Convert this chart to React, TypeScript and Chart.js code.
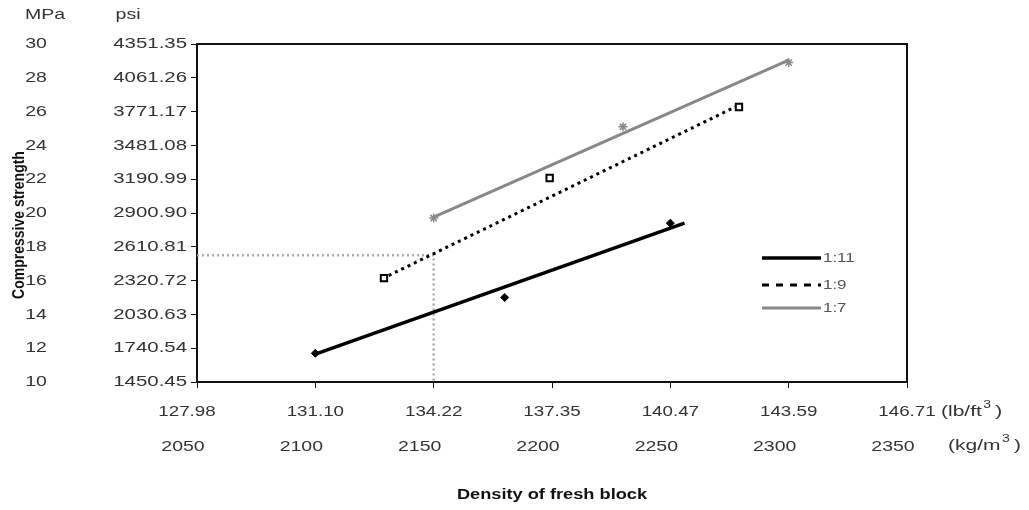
import React, { useEffect, useRef } from "react";
import { Chart, registerables } from "chart.js";

Chart.register(...registerables);

// ---- data ----
const densityKg = [2050, 2100, 2150, 2200, 2250, 2300, 2350];
const densityLb = ["127.98", "131.10", "134.22", "137.35", "140.47", "143.59", "146.71"];
const strengthMPa = [10, 12, 14, 16, 18, 20, 22, 24, 26, 28, 30];
const strengthPsi = ["1450.45", "1740.54", "2030.63", "2320.72", "2610.81", "2900.90", "3190.99", "3481.08", "3771.17", "4061.26", "4351.35"];

const seriesNames = ["1:11", "1:9", "1:7"];

const mix11X = [2100, 2180, 2250];
const mix11Y = [11.7, 15.0, 19.4];
const mix9X = [2129, 2199, 2279];
const mix9Y = [16.15, 22.07, 26.27];
const mix7X = [2150, 2230, 2300];
const mix7Y = [19.7, 25.1, 28.9];

const trend11X = [2100, 2256];
const trend11Y = [11.65, 19.4];
const trend9X = [2131, 2280];
const trend9Y = [16.3, 26.45];
const trend7X = [2150, 2300];
const trend7Y = [19.75, 29.05];

const refX = [2050, 2150, 2150];
const refY = [17.5, 17.5, 10];

const pts = (xs: number[], ys: number[]) => xs.map((x, i) => ({ x, y: ys[i] }));

const FONT = "'Liberation Sans', Arial, sans-serif";
const SX = 1.3;

function drawText(ctx: CanvasRenderingContext2D, text: string, x: number, y: number, font: string, color: string, align: CanvasTextAlign, sx = SX) {
  ctx.save();
  ctx.translate(x, y);
  ctx.scale(sx, 1);
  ctx.font = font;
  ctx.fillStyle = color;
  ctx.textAlign = align;
  ctx.textBaseline = "middle";
  ctx.fillText(text, 0, 0);
  ctx.restore();
}

function drawUnit(ctx: CanvasRenderingContext2D, pre: string, x: number, y: number) {
  ctx.save();
  ctx.translate(x, y);
  ctx.scale(1.4, 1);
  ctx.fillStyle = "#333";
  ctx.textBaseline = "middle";
  ctx.textAlign = "left";
  ctx.font = `15px ${FONT}`;
  ctx.fillText(pre, 0, 0);
  let w = ctx.measureText(pre).width;
  ctx.font = `10px ${FONT}`;
  ctx.fillText("3", w + 1, -7);
  w += ctx.measureText("3").width + 4;
  ctx.font = `15px ${FONT}`;
  ctx.fillText(")", w, 0);
  ctx.restore();
}

const textPlugin = {
  id: "textPlugin",
  afterDraw(chart: any) {
    const ctx: CanvasRenderingContext2D = chart.ctx;
    const xs = chart.scales.x;
    const ys = chart.scales.y;
    const area = chart.chartArea;

    // top and right border
    ctx.save();
    ctx.strokeStyle = "#111";
    ctx.lineWidth = 2;
    ctx.beginPath();
    ctx.moveTo(area.left, area.top);
    ctx.lineTo(area.right, area.top);
    ctx.lineTo(area.right, area.bottom);
    ctx.stroke();
    ctx.restore();

    const tf = `15px ${FONT}`;
    // y labels
    strengthMPa.forEach((v, i) => {
      const py = ys.getPixelForValue(v);
      drawText(ctx, String(v), 36, py, tf, "#333", "center");
      drawText(ctx, strengthPsi[i], 187, py, tf, "#333", "right", 1.36);
    });
    drawText(ctx, "MPa", 45, 15, tf, "#333", "center");
    drawText(ctx, "psi", 128, 15, tf, "#333", "center");

    // x labels
    densityKg.forEach((v, i) => {
      const px = xs.getPixelForValue(v);
      drawText(ctx, densityLb[i], px - (i === 0 ? 10 : 0), 412, tf, "#333", "center", 1.25);
      drawText(ctx, String(v), px - 14, 447, tf, "#333", "center");
    });
    drawUnit(ctx, "(lb/ft", 941, 412);
    drawUnit(ctx, "(kg/m", 948, 446);

    // titles
    drawText(ctx, "Density of fresh block", (area.left + area.right) / 2, 495, `bold 14px ${FONT}`, "#111", "center");
    ctx.save();
    ctx.translate(20, 225);
    ctx.rotate(-Math.PI / 2);
    ctx.scale(1, 1.15);
    ctx.font = `bold 14px ${FONT}`;
    ctx.fillStyle = "#111";
    ctx.textAlign = "center";
    ctx.textBaseline = "middle";
    ctx.fillText("Compressive strength", 0, 0);
    ctx.restore();

    // legend
    const legendY = [258, 285, 308];
    const trendSets = [0, 1, 2].map((i) => chart.data.datasets[i]);
    trendSets.forEach((ds: any, i: number) => {
      ctx.save();
      ctx.strokeStyle = ds.borderColor;
      ctx.lineWidth = ds.borderWidth;
      ctx.setLineDash(i === 1 ? [7, 7] : []);
      ctx.beginPath();
      ctx.moveTo(762, legendY[i]);
      ctx.lineTo(821, legendY[i]);
      ctx.stroke();
      ctx.restore();
      drawText(ctx, seriesNames[i], 823, legendY[i], `13px ${FONT}`, "#555", "left");
    });
  },
};

export default function App() {
  const ref = useRef<HTMLCanvasElement>(null);
  useEffect(() => {
    document.body.style.margin = "0";
    const chart = new Chart(ref.current as HTMLCanvasElement, {
      type: "scatter",
      data: {
        datasets: [
          { label: "t11", data: pts(trend11X, trend11Y), showLine: true, borderColor: "#000", borderWidth: 3.5, pointRadius: 0, order: 1 },
          { label: "t9", data: pts(trend9X, trend9Y), showLine: true, borderColor: "#000", borderWidth: 3, borderDash: [3, 4], pointRadius: 0, order: 1 },
          { label: "t7", data: pts(trend7X, trend7Y), showLine: true, borderColor: "#888", borderWidth: 3, pointRadius: 0, order: 1 },
          { label: seriesNames[0], data: pts(mix11X, mix11Y), pointStyle: "rectRot", pointRadius: 4, backgroundColor: "#000", borderColor: "#000", borderWidth: 1, order: 0 },
          { label: seriesNames[1], data: pts(mix9X, mix9Y), pointStyle: "rect", pointRadius: 4.5, backgroundColor: "#fff", borderColor: "#000", borderWidth: 2, order: 0 },
          { label: seriesNames[2], data: pts(mix7X, mix7Y), pointStyle: "star", pointRadius: 4.5, backgroundColor: "#888", borderColor: "#888", borderWidth: 1.5, order: 0 },
          { label: "ref", data: pts(refX, refY), showLine: true, borderColor: "#aaa", borderWidth: 2.5, borderDash: [2, 3], pointRadius: 0, order: 5 },
        ],
      },
      options: {
        responsive: false,
        animation: false,
        layout: { padding: { top: 44, right: 122, left: 0, bottom: 0 } },
        plugins: { legend: { display: false }, tooltip: { enabled: false } },
        scales: {
          x: {
            type: "linear",
            min: 2050,
            max: 2350,
            ticks: { stepSize: 50, display: false },
            grid: { drawOnChartArea: false, drawTicks: true, tickLength: 6, color: "#111", lineWidth: 1 },
            border: { display: true, color: "#111", width: 2 },
            afterFit: (s: any) => { s.height = 128; },
          },
          y: {
            type: "linear",
            min: 10,
            max: 30,
            ticks: { stepSize: 2, display: false },
            grid: { drawOnChartArea: false, drawTicks: true, tickLength: 6, color: "#111", lineWidth: 1 },
            border: { display: true, color: "#111", width: 2 },
            afterFit: (s: any) => { s.width = 197; },
          },
        },
      },
      plugins: [textPlugin],
    } as any);
    return () => chart.destroy();
  }, []);
  return (
    <div style={{ width: 1029, height: 510, background: "#fff" }}>
      <canvas ref={ref} width={1029} height={510} style={{ display: "block" }} />
    </div>
  );
}
